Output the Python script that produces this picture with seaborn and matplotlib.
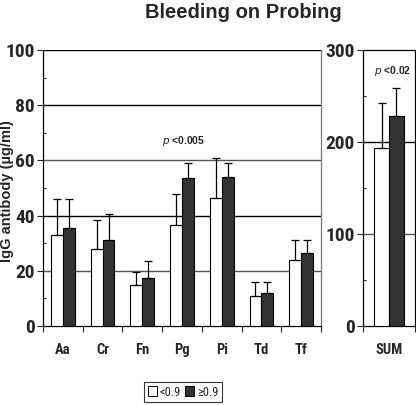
import matplotlib
matplotlib.use("Agg")
import matplotlib.pyplot as plt
import seaborn as sns
import pandas as pd
import numpy as np
from matplotlib.patches import Patch
from matplotlib.ticker import MultipleLocator, FixedLocator
from matplotlib import font_manager as fm

sns.set_style("white")
plt.rcParams['font.family'] = ['Liberation Sans', 'DejaVu Sans']

# pick a condensed face if one is installed
cond_family, cond_stretch = None, "normal"
_names = {f.name for f in fm.fontManager.ttflist}
for n in ["Liberation Sans Narrow", "Arial Narrow", "DejaVu Sans Condensed",
          "Roboto Condensed", "Noto Sans Condensed", "Open Sans Condensed"]:
    if n in _names:
        cond_family = n
        break
if cond_family is None:
    for f in fm.fontManager.ttflist:
        st = f.stretch
        if (isinstance(st, str) and "condensed" in st and "ultra" not in st and "extra" not in st) or \
           (isinstance(st, (int, float)) and 300 <= st <= 450):
            if f.weight in ("bold", 700) or f.weight == "bold":
                cond_family, cond_stretch = f.name, st
                break

if cond_family:
    NF = [cond_family, 'Liberation Sans', 'DejaVu Sans']
    tick_size, cat_size, leg_size = 14, 10.5, 9
else:
    NF = ['Liberation Sans', 'DejaVu Sans']
    tick_size, cat_size, leg_size = 11.5, 9, 8.5

categories = ["Aa", "Cr", "Fn", "Pg", "Pi", "Td", "Tf"]
low_mean = [33, 28, 15, 36.5, 46.5, 11, 24]
low_top = [46, 38.5, 19.5, 48, 61, 16, 31]
high_mean = [35.5, 31, 17.5, 53.5, 54, 12, 26.5]
high_top = [46, 40.5, 23.5, 59, 59, 16, 31]
sum_mean = [194, 228]
sum_top = [242, 259]
groups = ["<0.9", "\u22650.9"]
colors = ["white", "#333333"]

df = pd.DataFrame({
    "cat": categories * 2,
    "grp": [groups[0]] * 7 + [groups[1]] * 7,
    "val": low_mean + high_mean,
    "top": low_top + high_top,
})
dfs = pd.DataFrame({"cat": ["SUM"] * 2, "grp": groups, "val": sum_mean, "top": sum_top})

fig = plt.figure(figsize=(4.16, 4.05), dpi=100)
ax = fig.add_axes([43/416, 1-326/405, (321-43)/416, (326-50)/405])
ax2 = fig.add_axes([363/416, 1-326/405, (415-363)/416, (326-50)/405])

def draw(a, d, width):
    sns.barplot(data=d, x="cat", y="val", hue="grp", hue_order=groups,
                palette=colors, edgecolor="black", linewidth=0.8,
                width=width, errorbar=None, legend=False, ax=a, zorder=3)
    bars = list(a.patches)
    tops = []
    for g in groups:
        tops += list(d[d.grp == g]["top"])
    for p, t in zip(bars, tops):
        x = p.get_x() + p.get_width() / 2
        h = p.get_height()
        a.errorbar([x], [h], yerr=[[0], [t - h]], fmt="none", ecolor="black",
                   elinewidth=0.9, capsize=3, capthick=0.9, zorder=4)

draw(ax, df, 0.6)
draw(ax2, dfs, 0.56)

tick_font = dict(fontsize=tick_size, fontweight="bold", family=NF, fontstretch=cond_stretch)
lab_font = dict(fontsize=cat_size, fontweight="bold", family=NF, fontstretch=cond_stretch)

# left axis
ax.set_ylim(0, 100)
ax.set_xlim(-0.5, 6.5)
ax.set_yticks([0, 20, 40, 60, 80, 100])
ax.set_yticklabels(["0", "20", "40", "60", "80", "100"], **tick_font)
ax.yaxis.set_minor_locator(MultipleLocator(10))
for y, c in zip([20, 40, 60, 80, 100], ["#555555", "black", "#555555", "black", "black"]):
    ax.axhline(y, color=c, lw=1.0, zorder=1)
ax.set_xticks(range(7))
ax.set_xticklabels(categories, **lab_font)
ax.xaxis.set_minor_locator(FixedLocator(np.arange(-0.5, 7, 1)))
ax.tick_params(axis="x", which="major", length=0, pad=12)
ax.tick_params(axis="x", which="minor", length=4, direction="out", bottom=True, width=0.8)
ax.tick_params(axis="y", which="major", length=4, direction="out", left=True, width=0.8, pad=2)
ax.tick_params(axis="y", which="minor", length=2.5, direction="in", left=True, width=0.8)
ax.set_xlabel("")
ax.set_ylabel("")
ax.spines["top"].set_visible(False)
ax.spines["right"].set_color("#777777")
ax.spines["left"].set_color("black")
ax.spines["bottom"].set_color("black")
for s in ax.spines.values():
    s.set_linewidth(0.9)
ax.text(3.05, 67, r"$\it{p}$ <0.005", ha="center", va="center", fontsize=7.5,
        fontweight="bold")

fig.text(7/416, 1-191/405, "IgG antibody (\u00b5g/ml)", rotation=90, ha="center",
         va="center", fontsize=10.5, fontweight="bold")

# right axis
ax2.set_ylim(0, 300)
ax2.set_xlim(-0.5, 0.5)
ax2.set_yticks([0, 100, 200, 300])
ax2.set_yticklabels(["0", "100", "200", "300"], **tick_font)
ax2.yaxis.set_minor_locator(MultipleLocator(50))
for y, c in zip([100, 200], ["#555555", "black"]):
    ax2.axhline(y, color=c, lw=1.0, zorder=1)
ax2.set_xticks([0])
ax2.set_xticklabels(["SUM"], **lab_font)
ax2.xaxis.set_minor_locator(FixedLocator([-0.5, 0.5]))
ax2.tick_params(axis="x", which="major", length=0, pad=12)
ax2.tick_params(axis="x", which="minor", length=4, direction="out", bottom=True, width=0.8)
ax2.tick_params(axis="y", which="major", length=4, direction="out", left=True, width=0.8, pad=2)
ax2.tick_params(axis="y", which="minor", length=2.5, direction="in", left=True, width=0.8)
ax2.set_xlabel("")
ax2.set_ylabel("")
for s in ax2.spines.values():
    s.set_color("black")
    s.set_linewidth(0.9)
ax2.text(0.08, 277, r"$\it{p}$ <0.02", ha="center", va="center", fontsize=7.5,
         fontweight="bold")

fig.text(243/416, 1-12/405, "Bleeding on Probing", ha="center", va="center",
         fontsize=14.5, fontweight="bold")

handles = [Patch(facecolor=c, edgecolor="black", linewidth=0.7) for c in colors]
leg = fig.legend(handles, groups, loc="center", bbox_to_anchor=(183/416, 1-392/405),
                 ncol=2, frameon=True, fancybox=False, edgecolor="black",
                 prop=dict(size=leg_size, family=NF, stretch=cond_stretch),
                 handlelength=0.7, handleheight=0.9, handletextpad=0.2,
                 columnspacing=0.4, borderpad=0.3, borderaxespad=0)
leg.get_frame().set_linewidth(0.8)

fig.savefig("out.png", dpi=100)
